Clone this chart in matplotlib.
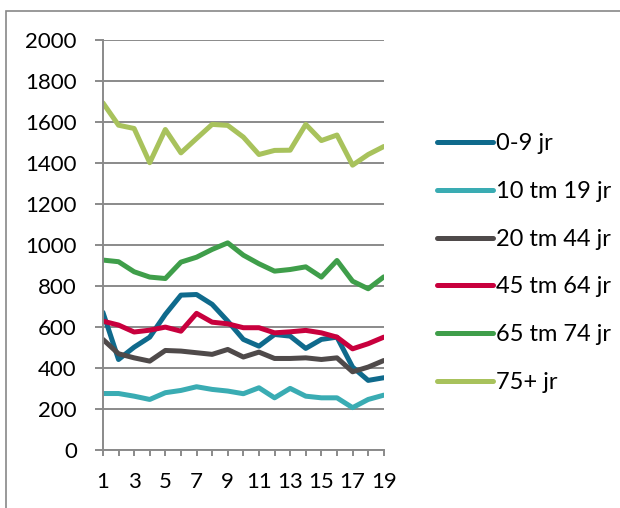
import matplotlib
matplotlib.use("Agg")
import matplotlib.pyplot as plt
from matplotlib.patches import Rectangle

plt.rcParams['font.family'] = ['Lato', 'DejaVu Sans']

weeks = list(range(1, 20))

age_0_9 = [672, 442, 502, 551, 662, 756, 759, 711, 629, 540, 507, 564, 556, 496, 540, 551, 405, 340, 353]
age_10_19 = [276, 276, 263, 247, 280, 291, 309, 296, 288, 275, 304, 255, 301, 263, 255, 255, 207, 247, 268]
age_20_44 = [540, 470, 450, 434, 486, 483, 475, 467, 491, 454, 478, 447, 447, 450, 442, 450, 382, 405, 437]
age_45_64 = [629, 610, 576, 585, 600, 580, 667, 624, 616, 597, 597, 572, 577, 584, 572, 551, 494, 519, 551]
age_65_74 = [927, 919, 870, 844, 837, 917, 941, 979, 1011, 951, 909, 873, 881, 894, 844, 925, 824, 787, 845]
age_75 = [1694, 1585, 1569, 1402, 1564, 1450, 1520, 1589, 1584, 1527, 1442, 1462, 1463, 1589, 1510, 1537, 1390, 1442, 1481]

labels = ['0-9 jr', '10 tm 19 jr', '20 tm 44 jr', '45 tm 64 jr', '65 tm 74 jr', '75+ jr']
colors = ['#0f6a8c', '#3aacb3', '#4f4a4a', '#c8003d', '#3f9e4a', '#a8c25c']
series = [age_0_9, age_10_19, age_20_44, age_45_64, age_65_74, age_75]

fig = plt.figure(figsize=(6.2, 5.08), dpi=100)
ax = fig.add_axes([0.166, 0.114, 0.453, 0.807])

# chart frame
fig.patches.append(Rectangle((6 / 620, -0.1), 1.2, 1 - 11 / 508 + 0.1,
                             transform=fig.transFigure, fill=False,
                             edgecolor='#888888', linewidth=1.2))

for vals, lab, col in zip(series, labels, colors):
    ax.plot(weeks, vals, color=col, linewidth=3.6, label=lab,
            solid_joinstyle='round', solid_capstyle='round')

ax.set_xlim(1, 19)
ax.set_ylim(0, 2000)
ax.set_yticks(range(0, 2001, 200))
ax.set_xticks(weeks)
ax.set_xticklabels([str(w) if w % 2 == 1 else '' for w in weeks])

ax.grid(axis='y', color='#8a8a8a', linewidth=1.4)
ax.set_axisbelow(True)
for s in ['top', 'right']:
    ax.spines[s].set_visible(False)
for s in ['left', 'bottom']:
    ax.spines[s].set_color('#8a8a8a')
    ax.spines[s].set_linewidth(1.4)

ax.tick_params(axis='y', length=5.8, width=1.4, color='#8a8a8a', labelsize=16, pad=13)
ax.tick_params(axis='x', length=4.5, width=1.4, color='#8a8a8a', labelsize=16, pad=11)

fig.legend(loc='center left', bbox_to_anchor=(0.689, 0.482), frameon=False,
           fontsize=17, handlelength=2.37, handletextpad=0.15, labelspacing=1.13,
           borderaxespad=0)

fig.savefig('out.png', dpi=100)
